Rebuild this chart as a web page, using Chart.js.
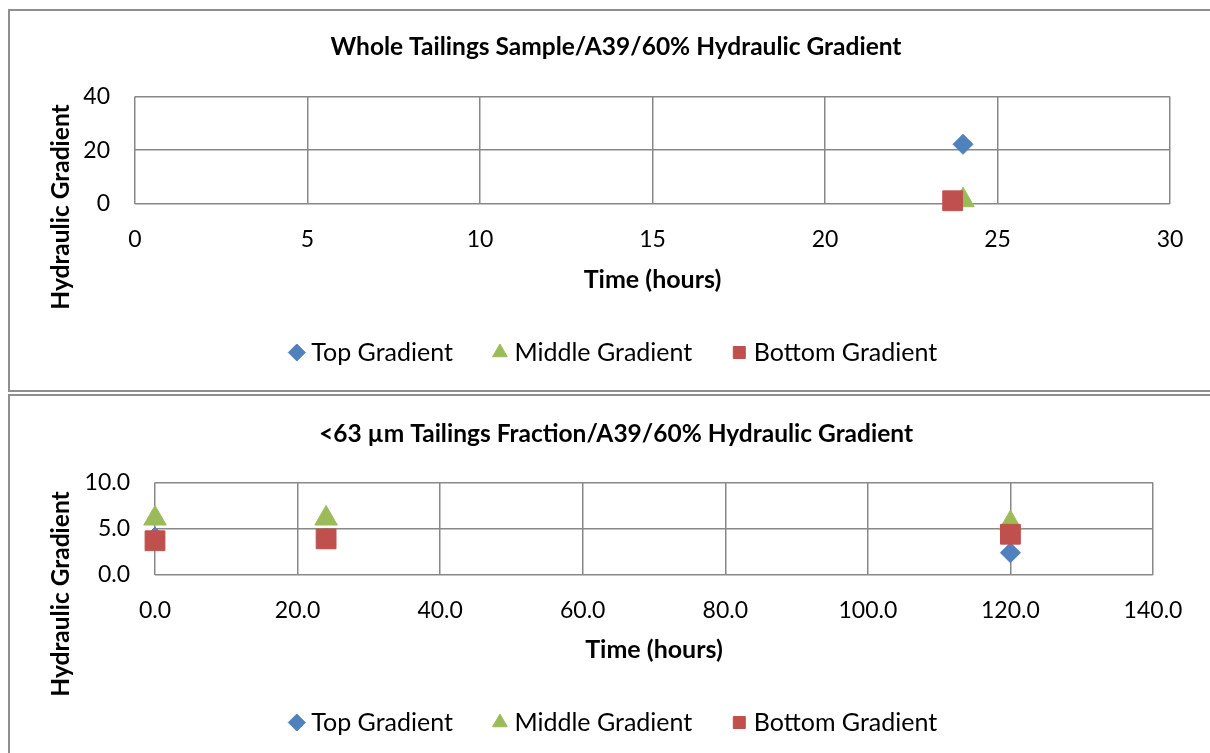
<!DOCTYPE html>
<html>
<head>
<meta charset="utf-8">
<script src="https://cdn.jsdelivr.net/npm/chart.js@4.4.1/dist/chart.umd.min.js"></script>
<style>
  body { margin: 0; background: #fff; overflow: hidden; width: 1210px; height: 753px; position: relative; }
  .frame { position: absolute; left: 8px; width: 1240px; border: 2px solid #8f8f8f; box-sizing: border-box; }
  #f1 { top: 9px; height: 383px; }
  #f2 { top: 394px; height: 420px; }
  .wrap { position: absolute; left: 0; width: 1210px; }
  #w1 { top: 0; height: 392px; }
  #w2 { top: 393px; height: 360px; }
</style>
</head>
<body>
<div class="frame" id="f1"></div>
<div class="frame" id="f2"></div>
<div class="wrap" id="w1"><canvas id="c1" width="1210" height="392"></canvas></div>
<div class="wrap" id="w2"><canvas id="c2" width="1210" height="360"></canvas></div>

<script>
// series names
const seriesNames = ['Top Gradient', 'Middle Gradient', 'Bottom Gradient'];

// whole tailings sample (hours, gradient)
const wholeTopX = [24];
const wholeTopY = [22.2];
const wholeMidX = [24];
const wholeMidY = [1.4];
const wholeBotX = [23.7];
const wholeBotY = [1.2];

// <63 um fraction
const fineTime = [0, 24, 120];
const fineTop = [4.1, 4.0, 2.4];
const fineMid = [6.1, 6.1, 5.6];
const fineBot = [3.7, 3.9, 4.4];

// axes
const wholeXTicks = [0, 5, 10, 15, 20, 25, 30];
const wholeYTicks = [0, 20, 40];
const fineXTicks = [0, 20, 40, 60, 80, 100, 120, 140];
const fineYTicks = [0, 5, 10];

const FONT = 'Lato';
const GRID = '#888888';

function pts(xs, ys) {
  return xs.map((x, i) => ({ x: x, y: ys[i] }));
}

// rotated y axis title, drawn beside the plot
const yTitlePlugin = {
  id: 'yTitle',
  afterDraw(chart, args, opts) {
    const ctx = chart.ctx;
    ctx.save();
    ctx.translate(opts.x, opts.y);
    ctx.rotate(-Math.PI / 2);
    ctx.font = 'bold 24.5px ' + FONT;
    ctx.fillStyle = '#000';
    ctx.textAlign = 'center';
    ctx.textBaseline = 'middle';
    ctx.fillText(opts.text, 0, 0);
    ctx.restore();
  }
};

function makeChart(id, o) {
  const datasets = [
    { label: seriesNames[0], data: o.top, pointStyle: 'rectRot', pointRadius: 10, order: 2,
      backgroundColor: '#4F81BD', borderColor: '#4F81BD' },
    { label: seriesNames[1], data: o.mid, pointStyle: 'triangle', pointRadius: 13, order: 1,
      backgroundColor: '#9BBB59', borderColor: '#9BBB59' },
    { label: seriesNames[2], data: o.bot, pointStyle: 'rect', pointRadius: 14, order: 0,
      backgroundColor: '#C0504D', borderColor: '#C0504D' }
  ];
  datasets.forEach(d => { d.pointBorderWidth = 1; d.pointHoverRadius = d.pointRadius; d.clip = false; });

  const tickFont = { family: FONT, size: 23 };
  const fmt = v => o.decimals ? Number(v).toFixed(o.decimals) : String(v);

  return new Chart(document.getElementById(id), {
    type: 'scatter',
    data: { datasets: datasets },
    plugins: [yTitlePlugin],
    options: {
      responsive: false,
      animation: false,
      devicePixelRatio: 1,
      layout: { padding: { left: o.padLeft, right: o.padRight, top: 0, bottom: o.padBottom } },
      plugins: {
        title: {
          display: true,
          text: o.title,
          color: '#000',
          font: { family: FONT, size: 24.5, weight: 'bold' },
          padding: { top: o.titleTop, bottom: o.titleBottom }
        },
        legend: {
          position: 'bottom',
          labels: {
            usePointStyle: true,
            boxWidth: 4,
            boxHeight: 12,
            padding: 45,
            color: '#000',
            font: { family: FONT, size: 25 },
            sort: (a, b) => a.datasetIndex - b.datasetIndex
          }
        },
        tooltip: { enabled: false },
        yTitle: { text: 'Hydraulic Gradient', x: 61, y: o.yTitleY }
      },
      scales: {
        x: {
          type: 'linear',
          min: o.xTicks[0],
          max: o.xTicks[o.xTicks.length - 1],
          afterBuildTicks: s => { s.ticks = o.xTicks.map(v => ({ value: v })); },
          ticks: { padding: 22, color: '#000', font: tickFont, callback: fmt },
          grid: { color: GRID, lineWidth: 1.5, drawTicks: false },
          border: { display: false },
          title: {
            display: true,
            text: 'Time (hours)',
            color: '#000',
            font: { family: FONT, size: 25, weight: 'bold' },
            padding: { top: 0, bottom: 0 }
          },
          afterFit: s => { s.height = o.xHeight; }
        },
        y: {
          type: 'linear',
          min: o.yTicks[0],
          max: o.yTicks[o.yTicks.length - 1],
          afterBuildTicks: s => { s.ticks = o.yTicks.map(v => ({ value: v })); },
          ticks: { padding: 25, color: '#000', font: tickFont, callback: fmt },
          grid: { color: GRID, lineWidth: 1.5, drawTicks: false },
          border: { display: false },
          afterFit: s => { s.width = o.yWidth; }
        }
      }
    }
  });
}

makeChart('c1', {
  title: 'Whole Tailings Sample/A39/60% Hydraulic Gradient',
  top: pts(wholeTopX, wholeTopY),
  mid: pts(wholeMidX, wholeMidY),
  bot: pts(wholeBotX, wholeBotY),
  xTicks: wholeXTicks, yTicks: wholeYTicks, decimals: 0,
  padLeft: 62, padRight: 40, padBottom: 17, yWidth: 73, xHeight: 91,
  titleTop: 32, titleBottom: 35, yTitleY: 207
});

makeChart('c2', {
  title: '<63 \u00b5m Tailings Fraction/A39/60% Hydraulic Gradient',
  top: pts(fineTime, fineTop),
  mid: pts(fineTime, fineMid),
  bot: pts(fineTime, fineBot),
  xTicks: fineXTicks, yTicks: fineYTicks, decimals: 1,
  padLeft: 79, padRight: 57, padBottom: 8, yWidth: 76, xHeight: 90,
  titleTop: 26, titleBottom: 34, yTitleY: 201
});
</script>
</body>
</html>
